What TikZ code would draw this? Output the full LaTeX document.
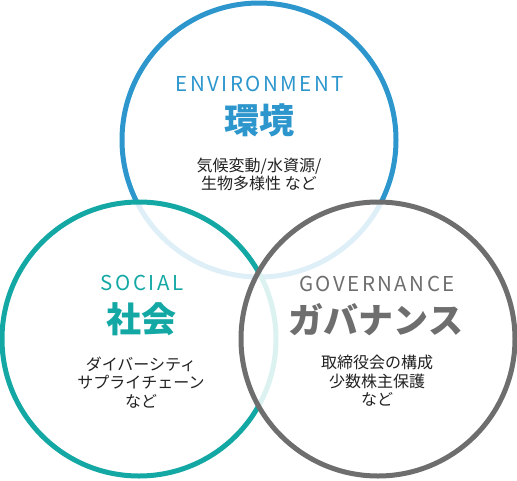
\documentclass[tikz,border=0pt]{standalone}
\usepackage{fontspec}
\setmainfont{Noto Sans CJK JP}
\definecolor{envblue}{RGB}{44, 150, 205}
\definecolor{socteal}{RGB}{20, 168, 165}
\definecolor{govgray}{RGB}{110, 110, 110}
\definecolor{inkblack}{RGB}{34, 34, 34}
\tikzset{
  ringstyle/.style={line width=5pt, fill=white},
  entitle/.style={font=\fontsize{20.5}{20.5}\selectfont\addfontfeature{LetterSpace=12}, anchor=center},
  jptitle/.style={font=\fontsize{35}{35}\selectfont\bfseries, anchor=center},
  notetext/.style={font=\fontsize{16}{18.5}\selectfont, align=center, text=inkblack, anchor=north}
}
\begin{document}
\begin{tikzpicture}[x=1pt,y=-1pt]
  \useasboundingbox (0,0) rectangle (517,480);
  % rings, later ones veil the earlier ones
  \filldraw[ringstyle, color=envblue, fill=white]                       (259,140) circle (137pt);
  \filldraw[ringstyle, color=socteal, fill=white, fill opacity=0.85]    (139,339) circle (137pt);
  \filldraw[ringstyle, color=govgray, fill=white, fill opacity=0.85]    (378,339) circle (137pt);
  % environment
  \node[entitle, text=envblue]  (env)     at (260, 84)  {ENVIRONMENT};
  \node[jptitle, text=envblue]  (envjp)   at (259,120)  {環境};
  \node[notetext]               (envnote) at (259,154)  {気候変動/水資源/\\生物多様性 など};
  % social
  \node[entitle, text=socteal]  (soc)     at (142,283)  {SOCIAL};
  \node[jptitle, text=socteal]  (socjp)   at (141,319)  {社会};
  \node[notetext]               (socnote) at (141,353)  {ダイバーシティ\\サプライチェーン\\など};
  % governance
  \node[entitle, text=govgray]  (gov)     at (377,284)  {GOVERNANCE};
  \node[jptitle, text=govgray]  (govjp)   at (376,320)  {ガバナンス};
  \node[notetext]               (govnote) at (377,352)  {取締役会の構成\\少数株主保護\\など};
\end{tikzpicture}
\end{document}
